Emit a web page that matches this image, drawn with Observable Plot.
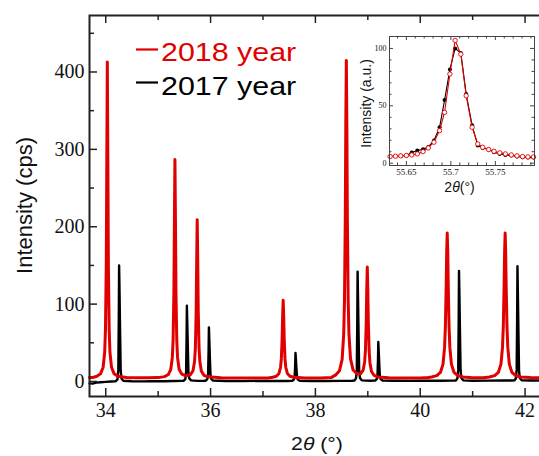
<!DOCTYPE html>
<html><head><meta charset="utf-8">
<script src="https://cdn.jsdelivr.net/npm/d3@7"></script>
<script src="https://cdn.jsdelivr.net/npm/@observablehq/plot@0.6"></script>
<style>
html,body{margin:0;padding:0;overflow:hidden;background:#fff;width:539px;height:456px;}
#wrap{position:relative;width:539px;height:456px;overflow:hidden;}
#main,#inset{position:absolute;line-height:0;}
#main{left:0;top:0;width:560px;height:456px;}
#inset{left:340px;top:20px;width:199px;height:180px;}
#main svg,#inset svg{max-width:none !important;}
</style></head>
<body><div id="wrap"><div id="main"></div><div id="inset"></div></div>
<script>
// ---- data ----
const seriesNames = ["2018 year", "2017 year"];
const seriesColors = ["#e10000", "#000000"];

const red2018 = [[33.69,5.2],[33.76,5.3],[33.83,6.8],[33.90,9.9],[33.95,18.4],[33.98,38],[33.995,68],[34.01,151],[34.02,287],[34.03,413],[34.04,287],[34.05,151],[34.065,68],[34.08,38],[34.11,18.4],[34.16,9.9],[34.23,6.8],[34.40,5.3],[34.60,4.8],[34.80,4.7],[35.00,5.0],[35.12,6.3],[35.19,8.7],[35.24,15.4],[35.27,30.8],[35.285,53.4],[35.30,114.5],[35.31,207.5],[35.32,287],[35.33,207.5],[35.34,114.5],[35.355,53.4],[35.37,30.8],[35.40,15.9],[35.45,9.5],[35.53,7.4],[35.615,8.7],[35.665,13.9],[35.695,26.2],[35.71,43.5],[35.725,90.2],[35.735,156.5],[35.745,209],[35.755,156.5],[35.765,90.2],[35.78,43.5],[35.795,25.7],[35.825,13.3],[35.875,7.9],[35.945,6.0],[36.20,4.8],[36.50,4.5],[36.80,4.6],[37.10,4.5],[37.185,5.5],[37.255,6.8],[37.305,10.4],[37.335,18.4],[37.35,29.2],[37.365,54.8],[37.375,84.9],[37.385,105],[37.395,84.9],[37.405,54.8],[37.42,29.2],[37.435,18.4],[37.465,10.4],[37.515,6.8],[37.585,5.5],[37.80,4.6],[38.10,4.5],[38.30,5.0],[38.39,8.6],[38.46,14],[38.51,28.6],[38.54,61.1],[38.555,105.5],[38.57,209.5],[38.58,333],[38.59,415],[38.60,333],[38.61,209.5],[38.625,106],[38.64,61.6],[38.67,29.2],[38.72,14.8],[38.79,10.0],[38.86,10.0],[38.91,14.5],[38.94,25.6],[38.955,41],[38.97,77.3],[38.98,120],[38.99,148],[39.00,119.3],[39.01,76.3],[39.025,39.8],[39.04,24.3],[39.07,12.9],[39.12,7.8],[39.19,5.9],[39.40,4.8],[39.70,4.5],[40.00,4.6],[40.15,5.2],[40.215,5.9],[40.315,7.6],[40.385,11.7],[40.435,22.4],[40.465,44.4],[40.48,71.2],[40.495,122.3],[40.505,167.5],[40.515,192],[40.525,167.5],[40.535,122.3],[40.55,71.2],[40.565,44.4],[40.595,22.4],[40.645,11.7],[40.715,7.6],[40.815,5.9],[41.00,4.9],[41.20,4.9],[41.32,5.9],[41.42,7.6],[41.49,11.7],[41.54,22.4],[41.57,44.4],[41.585,71.2],[41.60,122.3],[41.61,167.5],[41.62,192],[41.63,167.5],[41.64,122.3],[41.655,71.2],[41.67,44.4],[41.70,22.4],[41.75,11.7],[41.82,7.6],[41.92,5.9],[42.10,5.0],[42.39,4.8]];

const black2017 = [[33.69,-2.5],[33.75,-2.8],[33.82,-1.5],[33.90,-1.0],[34.00,-0.5],[34.10,0.0],[34.18,0.3],[34.195,0.5],[34.225,3],[34.24,15],[34.249,82],[34.255,150],[34.262,120],[34.273,68],[34.285,14],[34.30,4],[34.335,1],[34.50,0.4],[34.70,0.2],[34.90,0.5],[35.10,0.3],[35.30,0.6],[35.45,0.8],[35.488,1.0],[35.518,3],[35.533,12],[35.542,54],[35.548,98],[35.555,78],[35.566,44],[35.578,11],[35.593,4],[35.628,1.5],[35.75,0.8],[35.88,0.9],[35.908,1.0],[35.938,3],[35.953,10],[35.962,39],[35.968,70],[35.975,56],[35.986,32],[35.998,9],[36.013,3.5],[36.048,1.2],[36.30,0.7],[36.60,0.5],[36.90,0.8],[37.20,0.6],[37.45,0.7],[37.56,1],[37.59,2.5],[37.605,7],[37.614,21],[37.62,37],[37.627,30],[37.638,17],[37.65,6],[37.665,2.5],[37.70,1],[37.90,0.6],[38.20,0.7],[38.50,0.8],[38.70,1.0],[38.745,1.3],[38.775,4],[38.79,15],[38.799,78],[38.805,142],[38.812,113],[38.823,64],[38.835,14],[38.85,4.5],[38.885,1.5],[39.05,1.0],[39.12,1.1],[39.14,1.2],[39.17,3],[39.185,9],[39.194,28],[39.20,51],[39.207,41],[39.218,23],[39.23,7],[39.245,3],[39.28,1.2],[39.50,0.9],[39.80,0.8],[40.10,1.0],[40.40,0.9],[40.62,1.1],[40.68,1.3],[40.71,4],[40.725,15],[40.734,79],[40.74,143],[40.747,114],[40.758,64],[40.77,14],[40.785,4.5],[40.82,1.5],[41.00,1.0],[41.30,1.1],[41.60,1.2],[41.75,1.3],[41.795,1.4],[41.825,4],[41.84,15],[41.849,82],[41.855,149],[41.862,119],[41.873,67],[41.885,14],[41.90,4.5],[41.935,1.6],[42.10,1.2],[42.39,1.3]];

const xMajorTicks = [34, 36, 38, 40, 42];
const xMinorTicks = [35, 37, 39, 41];
const yMajorTicks = [0, 100, 200, 300, 400];
const yMinorTicks = [50, 150, 250, 350, 450];

// inset (peak near 55.7)
const insetX = [55.6317,55.6377,55.6437,55.65,55.656,55.6623,55.6687,55.6746,55.681,55.6873,55.6929,55.6989,55.7048,55.7112,55.7172,55.7239,55.7302,55.7358,55.7425,55.7485,55.7549,55.7612,55.7679,55.7743,55.7806,55.7866,55.7929];
const insetRed = [5.8,6.1,6.4,6.7,7.2,8.1,10.1,13.3,18.3,28.4,44.3,77.7,107,95,58.8,31.3,16.8,13.9,11.9,10.4,9.0,8.1,7.2,6.4,5.8,5.5,5.5];
const insetBlack = [5.8,6.1,6.4,6.7,9.3,11.0,12.2,14.2,19.7,31.3,55.0,81.7,100,96,60.3,33.0,15.4,13.3,11.9,9.6,8.1,7.2,6.7,5.8,5.2,4.9,4.9];
const insetXMajor = [55.65, 55.7, 55.75];
const insetXMinor = [55.64,55.66,55.67,55.68,55.69,55.71,55.72,55.73,55.74,55.76,55.77,55.78,55.79];
const insetYMajor = [0, 50, 100];
const insetYMinor = [10,20,30,40,60,70,80,90];

// ---- main chart ----
const W = 560, H = 456, mL = 89, mR = 15, mT = 15, mB = 60;
const fw = W - mL - mR, fh = H - mT - mB;
const redData = red2018.map(([x, y]) => ({x, y}));
const blackData = black2017.map(([x, y]) => ({x, y}));
const frameCol = "#222";
const serif = "Liberation Serif";
const sans = "Liberation Sans";

const main = Plot.plot({
  width: W, height: H, marginLeft: mL, marginRight: mR, marginTop: mT, marginBottom: mB,
  x: {domain: [33.69, 42.39], axis: null},
  y: {domain: [-19.4, 473], axis: null},
  style: {background: "transparent", color: "#111", maxWidth: "none"},
  marks: [
    Plot.line(blackData, {x: "x", y: "y", stroke: seriesColors[1], strokeWidth: 2.4}),
    Plot.line(redData, {x: "x", y: "y", stroke: seriesColors[0], strokeWidth: 3}),
    Plot.frame({stroke: frameCol, strokeWidth: 2}),
    Plot.ruleX(xMajorTicks, {stroke: frameCol, strokeWidth: 1.5, insetTop: fh - 8}),
    Plot.ruleX(xMajorTicks, {stroke: frameCol, strokeWidth: 1.5, insetBottom: fh - 8}),
    Plot.ruleX(xMinorTicks, {stroke: frameCol, strokeWidth: 1.5, insetTop: fh - 5}),
    Plot.ruleX(xMinorTicks, {stroke: frameCol, strokeWidth: 1.5, insetBottom: fh - 5}),
    Plot.ruleY(yMajorTicks, {stroke: frameCol, strokeWidth: 1.5, insetRight: fw - 8}),
    Plot.ruleY(yMinorTicks, {stroke: frameCol, strokeWidth: 1.5, insetRight: fw - 5}),
    Plot.text(xMajorTicks, {x: d => d, frameAnchor: "bottom", lineAnchor: "top", dy: 6, text: d => String(d),
      fontFamily: serif, fontSize: 20, fill: "#111", ariaLabel: "xticklabels"}),
    Plot.text(yMajorTicks, {y: d => d, frameAnchor: "left", textAnchor: "end", dx: -5, text: d => String(d),
      fontFamily: serif, fontSize: 20, fill: "#111", ariaLabel: "yticklabels"})
  ]
});
main.style.maxWidth = "none";
main.style.width = W + "px";
main.style.height = H + "px";
document.getElementById("main").appendChild(main);

// horizontally widen tick labels like the reference
function stretch(svg, sx) {
  svg.querySelectorAll("text").forEach(t => {
    const lab = (t.parentNode && t.parentNode.getAttribute("aria-label")) || "";
    if (lab.indexOf("ticklabels") >= 0) {
      t.setAttribute("transform", (t.getAttribute("transform") || "") + ` scale(${sx},1)`);
      t.style.fontFamily = "'Liberation Serif', serif";
    }
  });
}
stretch(main, 1.17);

const ms = d3.select(main);
// axis titles
const xt = ms.append("text").attr("transform", `translate(${mL + fw / 2},450) scale(1.18,1)`)
  .attr("text-anchor", "middle").attr("font-family", sans).attr("font-size", 18).attr("fill", "#111");
xt.append("tspan").text("2");
xt.append("tspan").attr("font-style", "italic").text("θ");
xt.append("tspan").text(" (°)");
ms.append("text").attr("transform", `translate(32,${mT + fh / 2}) rotate(-90)`)
  .attr("text-anchor", "middle").attr("font-family", sans).attr("font-size", 22).attr("fill", "#111")
  .text("Intensity (cps)");

// legend
[[0, 61, 49.5], [1, 95, 82.5]].forEach(([i, by, ly]) => {
  ms.append("line").attr("x1", 136).attr("x2", 158).attr("y1", ly).attr("y2", ly)
    .attr("stroke", seriesColors[i]).attr("stroke-width", 2.2);
  ms.append("text").attr("transform", `translate(161,${by}) scale(1.17,1)`)
    .attr("text-anchor", "start")
    .attr("font-family", sans).attr("font-size", 26).attr("fill", seriesColors[i])
    .text(seriesNames[i]);
});

// ---- inset ----
const IW = 199, IH = 180, imL = 49, imR = 5, imT = 16, imB = 35;
const ifw = IW - imL - imR, ifh = IH - imT - imB;
const insRed = insetX.map((x, i) => ({x, y: insetRed[i]}));
const insBlack = insetX.map((x, i) => ({x, y: insetBlack[i]}));
const ic = "#444";
const inset = Plot.plot({
  width: IW, height: IH, marginLeft: imL, marginRight: imR, marginTop: imT, marginBottom: imB,
  x: {domain: [55.631, 55.794], axis: null},
  y: {domain: [-2, 110.4], axis: null},
  style: {background: "transparent", color: "#111", maxWidth: "none"},
  marks: [
    Plot.frame({fill: "#fff", stroke: "none"}),
    Plot.line(insBlack, {x: "x", y: "y", stroke: "#000", strokeWidth: 1.1}),
    Plot.dot(insBlack, {x: "x", y: "y", r: 2, fill: "#000", stroke: "none"}),
    Plot.line(insRed, {x: "x", y: "y", stroke: seriesColors[0], strokeWidth: 1.1}),
    Plot.dot(insRed, {x: "x", y: "y", r: 2.2, fill: "#fff", stroke: seriesColors[0], strokeWidth: 0.9}),
    Plot.frame({stroke: ic, strokeWidth: 1}),
    Plot.ruleX(insetXMajor, {stroke: ic, insetTop: ifh - 4}),
    Plot.ruleX(insetXMajor, {stroke: ic, insetBottom: ifh - 4}),
    Plot.ruleX(insetXMinor, {stroke: ic, insetTop: ifh - 2.5}),
    Plot.ruleX(insetXMinor, {stroke: ic, insetBottom: ifh - 2.5}),
    Plot.ruleY(insetYMajor, {stroke: ic, insetRight: ifw - 4}),
    Plot.ruleY(insetYMajor, {stroke: ic, insetLeft: ifw - 4}),
    Plot.ruleY(insetYMinor, {stroke: ic, insetRight: ifw - 2.5}),
    Plot.ruleY(insetYMinor, {stroke: ic, insetLeft: ifw - 2.5}),
    Plot.text(insetXMajor, {x: d => d, frameAnchor: "bottom", lineAnchor: "top", dy: 3, text: d => String(d),
      fontFamily: serif, fontSize: 9, fill: "#111", ariaLabel: "xticklabels"}),
    Plot.text(insetYMajor, {y: d => d, frameAnchor: "left", textAnchor: "end", dx: -3, text: d => String(d),
      fontFamily: serif, fontSize: 8, fill: "#111", ariaLabel: "yticklabels"})
  ]
});
inset.style.maxWidth = "none";
inset.style.width = IW + "px";
inset.style.height = IH + "px";
document.getElementById("inset").appendChild(inset);
stretch(inset, 1.0);
const is = d3.select(inset);
const ixt = is.append("text").attr("transform", `translate(${imL + ifw / 2 - 2},172)`)
  .attr("text-anchor", "middle").attr("font-family", sans).attr("font-size", 14).attr("fill", "#111");
ixt.append("tspan").text("2");
ixt.append("tspan").attr("font-style", "italic").text("θ");
ixt.append("tspan").text("(°)");
is.append("text").attr("transform", `translate(31,${imT + ifh / 2 + 3}) rotate(-90)`)
  .attr("text-anchor", "middle").attr("font-family", sans).attr("font-size", 14).attr("fill", "#111")
  .text("Intensity (a.u.)");
</script></body></html>
